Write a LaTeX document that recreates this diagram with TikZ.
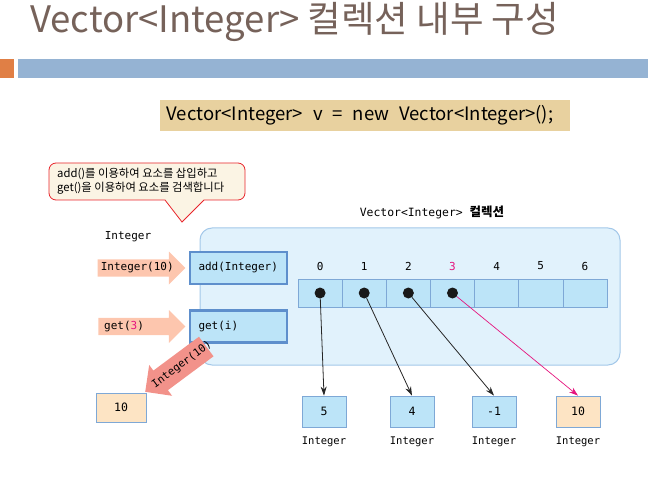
\documentclass[tikz,border=0pt]{standalone}
\usepackage{fontspec}
\setmainfont{Noto Sans CJK KR}
\setmonofont{DejaVu Sans Mono}
\newfontfamily\kr{Noto Sans CJK KR}
\newfontfamily\codefont[WordSpace=2.4]{Noto Sans CJK KR}
\usetikzlibrary{positioning,calc,shapes.arrows,arrows.meta}
\definecolor{titlebrown}{HTML}{76625A}
\definecolor{accent}{HTML}{E07F45}
\definecolor{barblue}{HTML}{95B3D3}
\definecolor{codetan}{HTML}{E8D19F}
\definecolor{memofill}{HTML}{FBF4E4}
\definecolor{memoline}{HTML}{E8242B}
\definecolor{collfill}{HTML}{E1F2FC}
\definecolor{collline}{HTML}{A3C8E9}
\definecolor{cellblue}{HTML}{BCE4F8}
\definecolor{cellline}{HTML}{7EA8D6}
\definecolor{opline}{HTML}{5E8FCC}
\definecolor{peach}{HTML}{FDC6AE}
\definecolor{retred}{HTML}{F2928A}
\definecolor{valtan}{HTML}{FDE4C4}
\definecolor{idxpink}{HTML}{E5157E}
\tikzset{
title/.style={font=\fontsize{36.5}{42}\selectfont,text=titlebrown,inner sep=0pt},
codebox/.style={fill=codetan,minimum width=410,minimum height=31,inner sep=0pt,
  font=\codefont\fontsize{18.5}{22}\selectfont},
memotext/.style={font=\fontsize{11.3}{14}\selectfont,align=left,inner sep=0pt},
memobox/.style={draw=memoline,fill=memofill,line width=0.8},
coll/.style={draw=collline,fill=collfill,line width=1,rounded corners=12},
mono/.style={font=\ttfamily\fontsize{11}{13}\selectfont,inner sep=0pt},
colllabel/.style={font=\ttfamily\fontsize{11.4}{13}\selectfont,inner sep=0pt},
opbox/.style={draw=opline,line width=2.5,fill=cellblue,minimum width=97,minimum height=32,inner xsep=8.5,
  text width=80,align=left,font=\ttfamily\fontsize{11}{13}\selectfont},
cellbox/.style={draw=cellline,line width=0.6,fill=cellblue,minimum width=44.14,minimum height=28,inner sep=0pt},
valbox/.style={draw=cellline,line width=0.8,fill=cellblue,minimum width=44,minimum height=31,inner sep=0pt,
  font=\ttfamily\fontsize{11.5}{13}\selectfont},
tenbox/.style={valbox,fill=valtan,minimum width=50,minimum height=29},
dot/.style={circle,fill=black!90,minimum size=11,inner sep=0pt},
fatarrow/.style={single arrow,fill=peach,minimum height=87,minimum width=33,single arrow head extend=7.5,
  inner ysep=2.5,inner xsep=3,font=\ttfamily\fontsize{11}{13}\selectfont},
retarrow/.style={single arrow,fill=retred,minimum height=76,minimum width=38,single arrow head extend=7,
  inner ysep=12,inner xsep=0,shape border rotate=180},
rettext/.style={font=\ttfamily\fontsize{10.7}{12}\selectfont,inner sep=0pt,rotate=36.6},
ptr/.style={-{Stealth[length=9,width=6]},line width=0.8,black!85}
}
\begin{document}
\begin{tikzpicture}[x=1pt,y=-1pt]
\useasboundingbox (0,0) rectangle (648,481);
\node[title,anchor=base west] (title) at (30,33) {Vector<Integer> 컬렉션 내부 구성};
\fill[accent] (0,59) rectangle (14,78);
\fill[barblue] (18,59) rectangle (648,78);
\node[codebox] (code) at (365,115.5) {Vector<Integer> v = new Vector<Integer>();\hspace*{10pt}};
\filldraw[memobox] (165,200) [rounded corners=7] -- (49,200) -- (49,163) -- (245,163) -- (245,200) [sharp corners] -- (204,200) -- (182,222) -- cycle;
\node[memotext,anchor=west] (memo) at (57,181.5) {add()를 이용하여 요소를 삽입하고\\get()을 이용하여 요소를 검색합니다};
\draw[coll] (200,228) rectangle (620,365);
\node[colllabel] (colname) at (432,212) {Vector<Integer> {\kr\bfseries\fontsize{12.5}{13}\selectfont 컬렉션}};
\node[mono] (intlabel) at (128,237) {Integer};
\foreach \i in {0,...,6}{
  \node[cellbox] (c\i) at (320.07+44.14*\i,293) {};
  \node[mono] (n\i) at (320.07+44.14*\i,266) {\ifnum\i=3 \textcolor{idxpink}{\i}\else\i\fi};
}
\node[tenbox] (ten) at (121,407.5) {10};
\node[opbox] (add) at (238.5,268) {add(Integer)};
\node[opbox] (get) at (238.5,326.5) {get(i)};
\node[retarrow,rotate=36.6,anchor=tip] (ret) at (145,392) {};
\node[rettext] (rettxt) at ($(ret.tip)!0.6!(ret.tail)$) {Integer(10)};
\node[fatarrow,anchor=tip] (argin) at ([xshift=-3]add.west) {Integer(10)};
\node[fatarrow,anchor=tip,text width=67,align=left] (getin) at ([xshift=-3]get.west) {get(\textcolor{idxpink}{3})};
\node[valbox] (v0) at (324,411.5) {5};
\node[valbox] (v1) at (412,411.5) {4};
\node[valbox] (v2) at (494,411.5) {-1};
\node[valbox,fill=valtan] (v3) at (578,411.5) {10};
\foreach \i in {0,...,3}{
  \node[mono,font=\ttfamily\fontsize{10.5}{12}\selectfont,anchor=north] (t\i) at ([yshift=-9pt]v\i.south) {Integer};
  \node[dot] (d\i) at (c\i) {};
}
\draw[ptr] (d0) -- (v0.north);
\draw[ptr] (d1) -- (v1.north);
\draw[ptr] (d2) -- (v2.north);
\draw[ptr,idxpink,line width=0.7] (d3) -- (v3.north);
\end{tikzpicture}
\end{document}
